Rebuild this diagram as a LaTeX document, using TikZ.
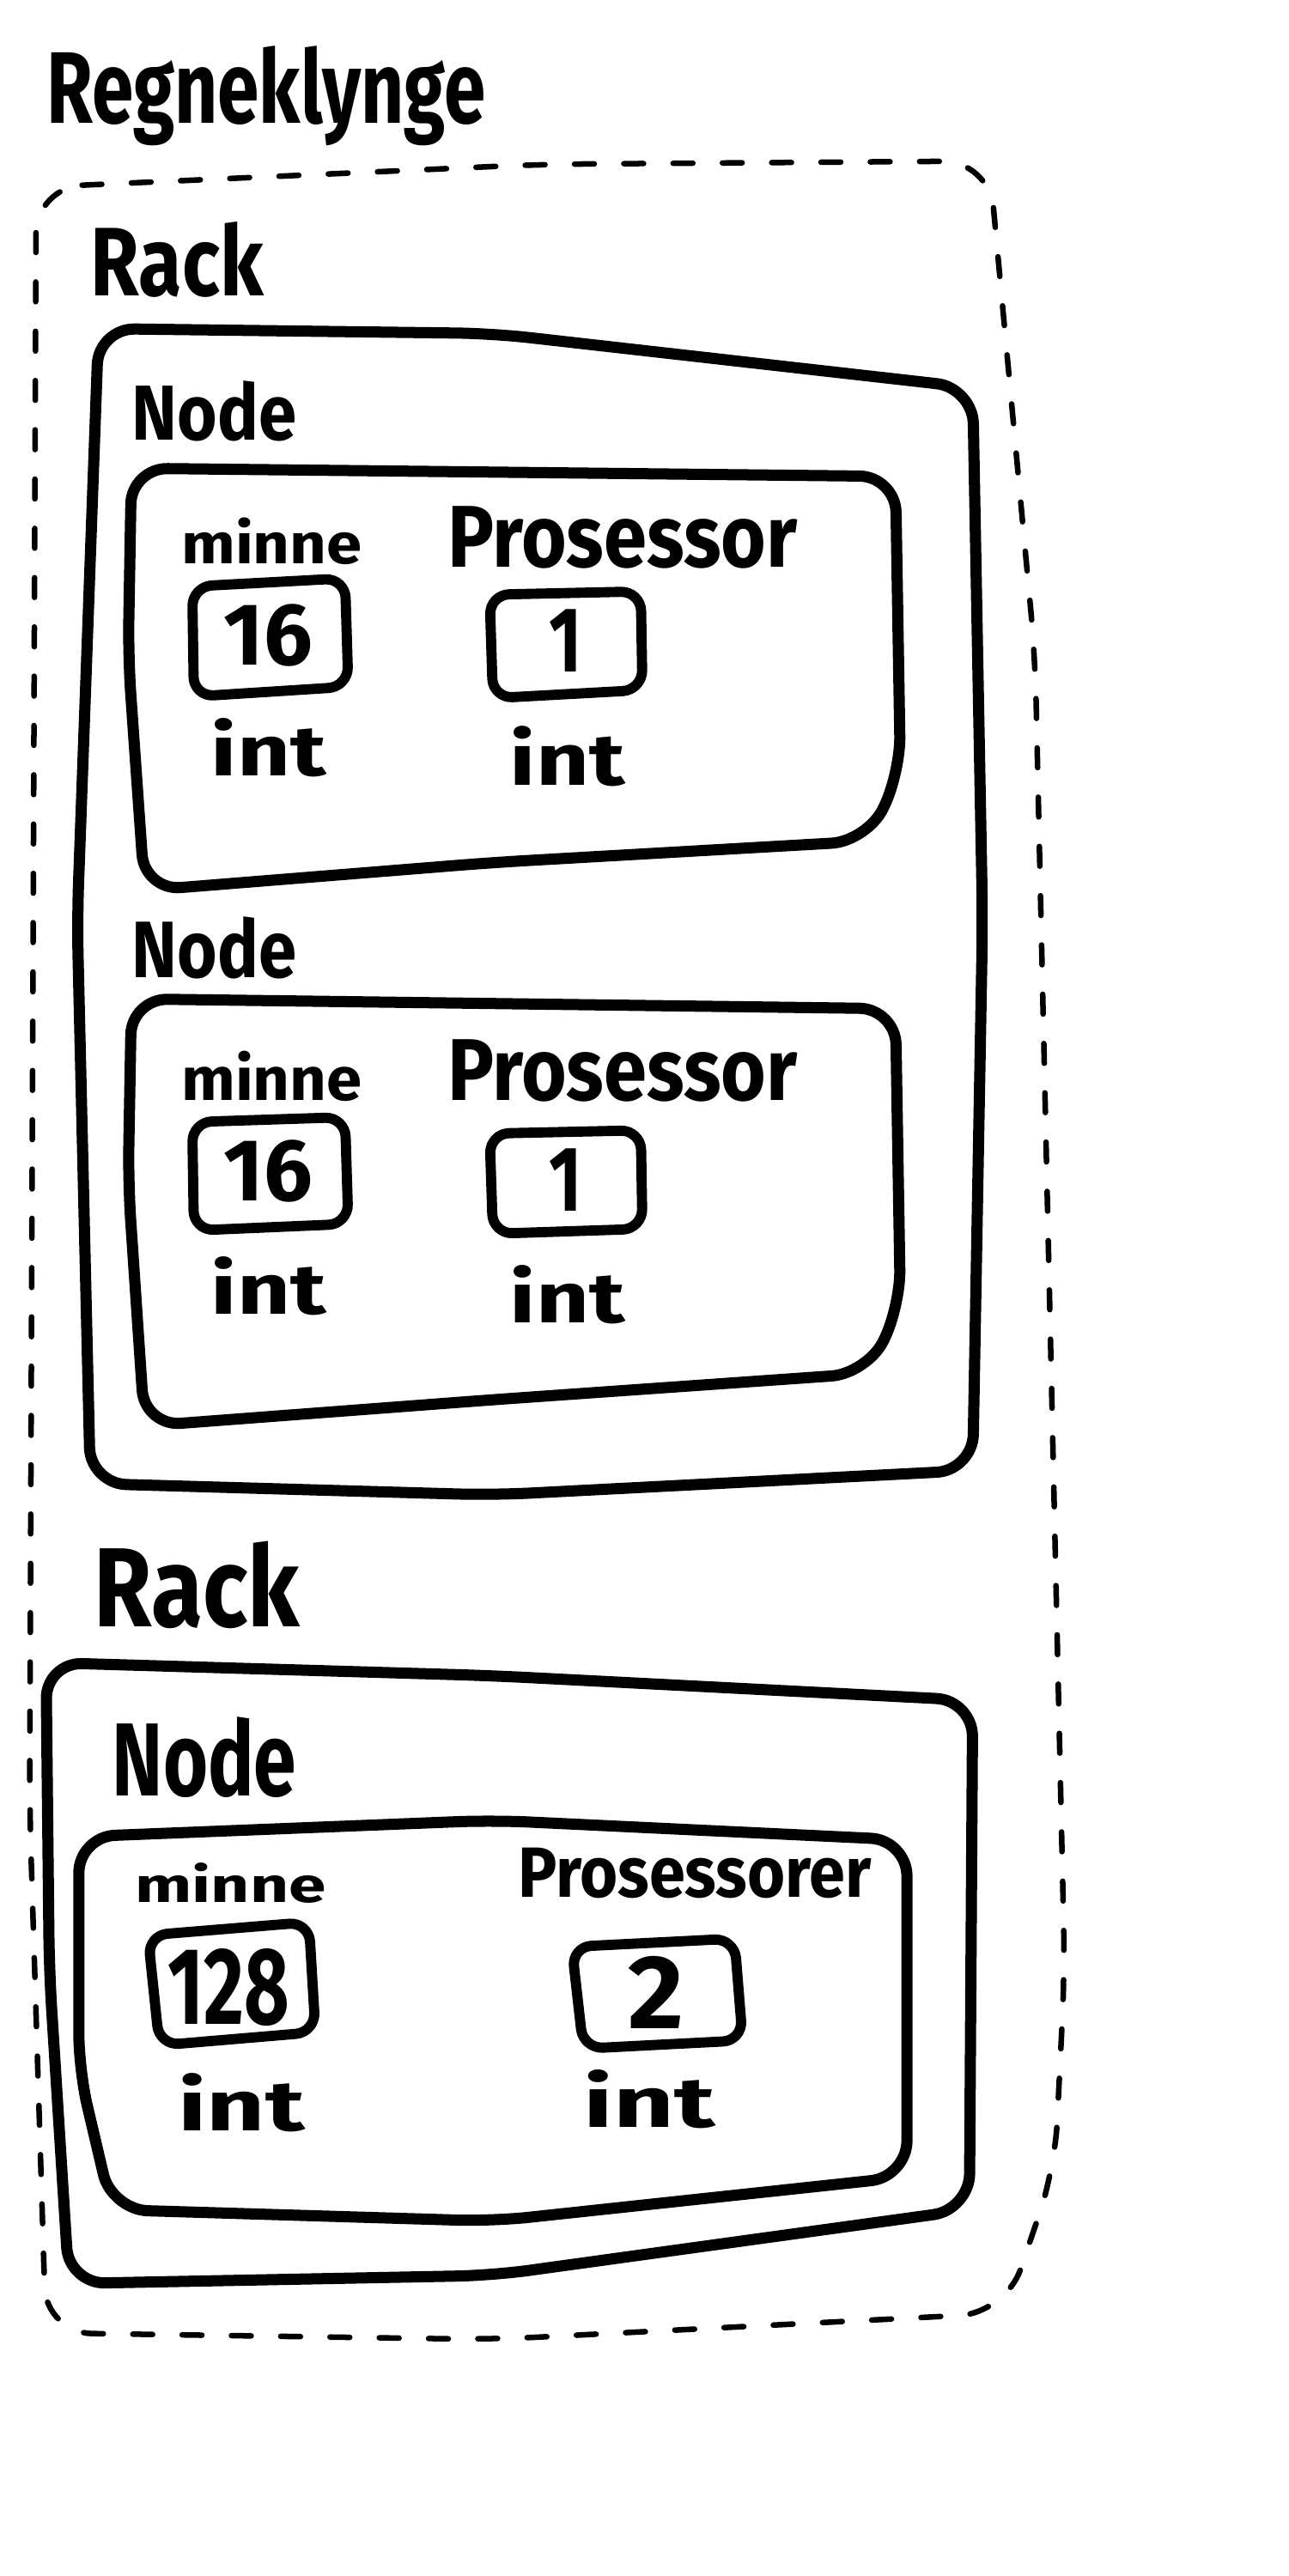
\documentclass[tikz,border=0pt]{standalone}
\usepackage{fontspec}
\usepackage{graphicx}
\setmainfont{Fira Sans}
\newcommand\hw[3]{\resizebox{#1}{#2}{\bfseries #3}}
\begin{document}
\begin{tikzpicture}[x=0.5pt,y=-0.5pt,
  lbl/.style={inner sep=0pt, anchor=base west, text=black},
  hbox/.style={draw=black, line width=3.4pt, rounded corners=11pt, line join=round},
  vbox/.style={draw=black, line width=3.1pt, rounded corners=6pt, line join=round},
  cluster/.style={draw=black, line width=1.7pt, rounded corners=14pt, dash pattern=on 6pt off 9pt, line cap=round}]
\fill[white] (0,0) rectangle (784,1568);
\useasboundingbox (0,0) rectangle (784,1568);

% title
\node[lbl] (title) at (28,75) {\hw{133.5pt}{23.5pt}{Regneklynge}};

% outer dashed cluster
\draw[cluster] (22,114) -- (330,100) -- (602,98) -- (630,400) -- (648,1200) -- (642,1320) -- (612,1408) -- (300,1424) -- (28,1420) -- (18,1100) -- cycle;

% ---------- Rack 1 ----------
\node[lbl] (rack1) at (55,180) {\hw{52.5pt}{22.5pt}{Rack}};
\draw[hbox] (60,200) -- (300,203) -- (592,236) -- (598,560) -- (592,895) -- (300,910) -- (55,903) -- (47,560) -- cycle;

% Node 1
\node[lbl] (node1) at (80,268) {\hw{50pt}{18pt}{Node}};
\draw[hbox] (80,285) -- (545,290) -- (548,470) -- (528,512) -- (300,525) -- (88,542) -- (78,400) -- cycle;
\node[lbl] (minne1) at (110,343) {\hw{55pt}{14pt}{minne}};
\node[lbl] (pros1) at (272,345) {\hw{106.5pt}{18.5pt}{Prosessor}};
\draw[vbox] (117,357) -- (210,352) -- (212,418) -- (118,424) -- cycle;
\node[lbl] (v16a) at (136,405) {\hw{27pt}{18.5pt}{16}};
\draw[vbox] (298,362) -- (390,360) -- (391,420) -- (300,425) -- cycle;
\node[lbl] (v1a) at (334,409) {\hw{10pt}{19pt}{1}};
\node[lbl] (int1) at (128,472) {\hw{35pt}{17.5pt}{int}};
\node[lbl] (int2) at (310,478) {\hw{35pt}{18pt}{int}};

% Node 2
\node[lbl] (node2) at (80,595) {\hw{50pt}{18.5pt}{Node}};
\draw[hbox] (80,608) -- (545,614) -- (548,795) -- (528,836) -- (300,852) -- (88,868) -- (78,720) -- cycle;
\node[lbl] (minne2) at (110,670) {\hw{55pt}{15pt}{minne}};
\node[lbl] (pros2) at (272,670) {\hw{106.5pt}{18.5pt}{Prosessor}};
\draw[vbox] (117,683) -- (210,680) -- (212,745) -- (118,749) -- cycle;
\node[lbl] (v16b) at (136,731) {\hw{27pt}{18.5pt}{16}};
\draw[vbox] (298,690) -- (390,688) -- (391,748) -- (300,751) -- cycle;
\node[lbl] (v1b) at (334,737) {\hw{10pt}{19pt}{1}};
\node[lbl] (int3) at (128,800) {\hw{35pt}{17.5pt}{int}};
\node[lbl] (int4) at (310,805) {\hw{35pt}{17.5pt}{int}};

% ---------- Rack 2 ----------
\node[lbl] (rack2) at (57,990) {\hw{62.5pt}{26pt}{Rack}};
\draw[hbox] (28,1012) -- (300,1020) -- (592,1035) -- (590,1345) -- (300,1385) -- (42,1390) -- (30,1200) -- cycle;

% Node 3
\node[lbl] (node3) at (68,1093) {\hw{56pt}{24pt}{Node}};
\draw[hbox] (48,1118) -- (300,1108) -- (552,1120) -- (552,1325) -- (300,1352) -- (68,1345) -- (48,1260) -- cycle;
\node[lbl] (minne3) at (82,1158) {\hw{58pt}{12pt}{minne}};
\node[lbl] (pros3) at (315,1155) {\hw{107.5pt}{15pt}{Prosessorer}};
\draw[vbox] (90,1178) -- (188,1170) -- (192,1237) -- (97,1245) -- cycle;
\node[lbl] (v128) at (102,1232) {\hw{37pt}{23pt}{128}};
\draw[vbox] (348,1185) -- (447,1180) -- (452,1242) -- (355,1247) -- cycle;
\node[lbl] (v2) at (382,1235) {\hw{17pt}{22pt}{2}};
\node[lbl] (int5) at (108,1297) {\hw{38.5pt}{17.5pt}{int}};
\node[lbl] (int6) at (355,1295) {\hw{40pt}{17.5pt}{int}};
\end{tikzpicture}
\end{document}
